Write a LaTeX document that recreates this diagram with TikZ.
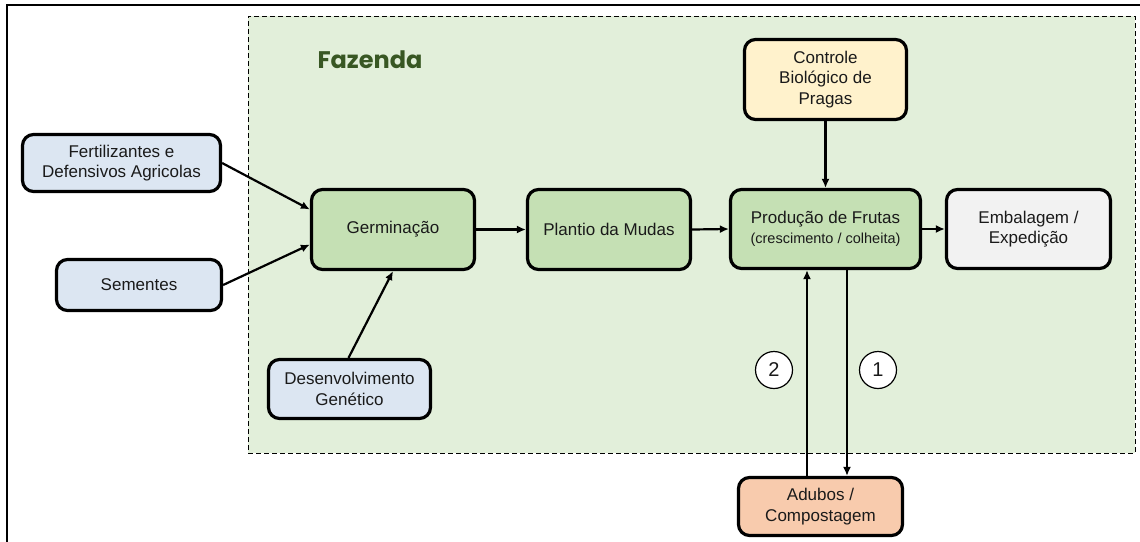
\documentclass[tikz,border=0pt]{standalone}
\usepackage{fontspec}
\setmainfont{Liberation Sans}
\newfontfamily\fazfont{Poppins}
\usetikzlibrary{arrows.meta,calc}
\definecolor{farmbg}{HTML}{E2EFDA}
\definecolor{bluefill}{HTML}{DCE6F2}
\definecolor{greenfill}{HTML}{C5E0B4}
\definecolor{yellowfill}{HTML}{FFF2CC}
\definecolor{grayfill}{HTML}{F2F2F2}
\definecolor{orangefill}{HTML}{F8CBAD}
\definecolor{fazgreen}{HTML}{385723}
\definecolor{txt}{HTML}{1A1A1A}
\tikzset{
  box/.style={draw=black, line width=3.2pt, rounded corners=11pt, align=center,
    text=txt, font=\fontsize{17}{20.5}\selectfont, inner sep=0pt},
  arr/.style={-{Latex[length=9pt,width=8pt]}, line width=2.2pt},
  num/.style={circle, draw=black, line width=1.2pt, fill=white, minimum size=37pt,
    inner sep=0pt, font=\fontsize{20}{20}\selectfont, text=txt},
}
\begin{document}
\begin{tikzpicture}[x=1pt,y=-1pt]
\useasboundingbox (0,0) rectangle (1140,541);
\draw[line width=2.5pt] (7,560) -- (7,5) -- (1160,5);
\node[draw=black, dash pattern=on 5pt off 3pt, line width=1pt, fill=farmbg,
  minimum width=887pt, minimum height=437pt, inner sep=0pt] (farm) at (691.5,234.5) {};
\node[anchor=west, text=fazgreen, font=\fazfont\bfseries\fontsize{24}{24}\selectfont] (faz) at (314,60) {Fazenda};

\node[box, fill=bluefill, minimum width=198pt, minimum height=57pt] (fert) at (121.5,163) {Fertilizantes e\\Defensivos Agricolas};
\node[box, fill=bluefill, minimum width=165pt, minimum height=51pt] (sem) at (139,285) {Sementes};
\node[box, fill=bluefill, minimum width=162pt, minimum height=59pt] (dev) at (349.5,389) {Desenvolvimento\\Gen\'etico};
\node[box, fill=greenfill, minimum width=163pt, minimum height=80pt] (germ) at (393,229.5) {Germinação};
\node[box, fill=greenfill, minimum width=163pt, minimum height=80pt] (plant) at (609,229.5) {Plantio da Mudas};
\node[box, fill=greenfill, minimum width=190pt, minimum height=79pt] (prod) at (825.5,229) {Produção de Frutas\\[-1pt]{\fontsize{14.5}{17}\selectfont (crescimento / colheita)}};
\node[box, fill=grayfill, minimum width=164pt, minimum height=79pt] (emb) at (1028.5,229) {Embalagem /\\Expedição};
\node[box, fill=yellowfill, minimum width=162pt, minimum height=80pt] (ctrl) at (825.5,79.5) {Controle\\Biológico de\\Pragas};
\node[box, fill=orangefill, minimum width=164pt, minimum height=58pt] (adu) at (820.5,506.5) {Adubos /\\Compostagem};

\draw[arr] (fert.east) -- ($(germ.west)+(0,-20)$);
\draw[arr] (sem.east) -- ($(germ.west)+(0,15)$);
\draw[arr] ($(dev.north)+(-1,0)$) -- (germ.south);
\draw[arr] (germ.east) -- (plant.west);
\draw[arr] (plant.east) -- (prod.west);
\draw[arr] (prod.east) -- (emb.west);
\draw[arr] (ctrl.south) -- (prod.north);
\coordinate (l1) at (847,0);
\coordinate (l2) at (807,0);
\draw[arr] (prod.south -| l1) -- (adu.north -| l1);
\draw[arr] (adu.north -| l2) -- (prod.south -| l2);
\node[num] (n2) at (774,370) {2};
\node[num] (n1) at (878,370) {1};
\end{tikzpicture}
\end{document}
